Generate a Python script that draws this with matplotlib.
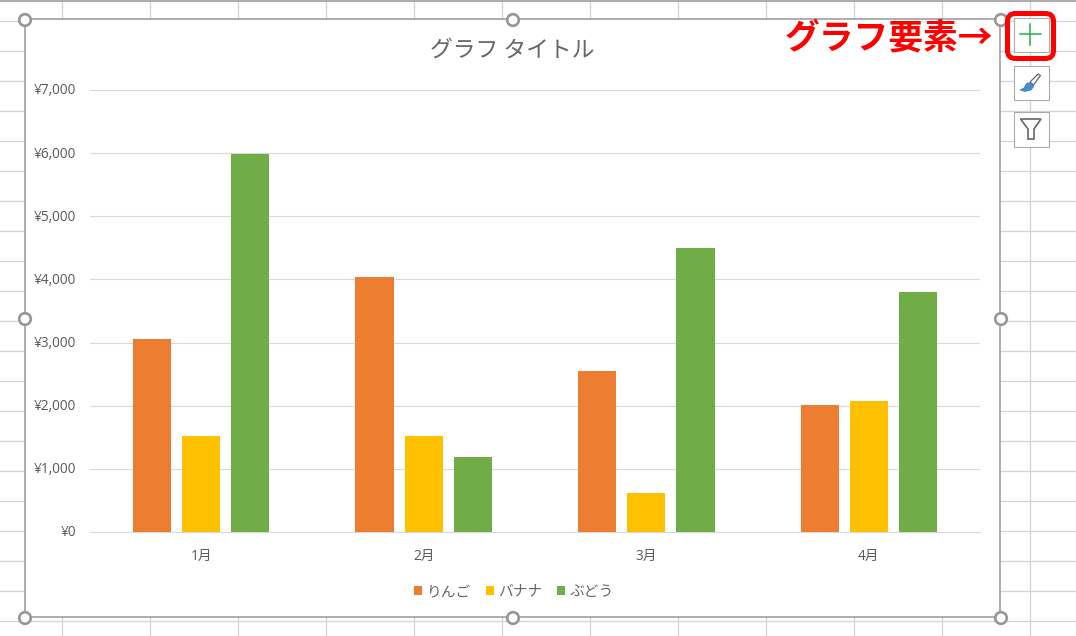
import matplotlib
matplotlib.use("Agg")
import matplotlib.pyplot as plt
import numpy as np
from matplotlib.patches import Rectangle, FancyBboxPatch, Circle, Polygon
from matplotlib.transforms import ScaledTranslation

plt.rcParams['font.family'] = ['Noto Sans CJK JP', 'DejaVu Sans']

months = ['1月', '2月', '3月', '4月']
series_names = ['りんご', 'バナナ', 'ぶどう']
apple = [3050, 4040, 2550, 2010]
banana = [1520, 1520, 620, 2080]
grape = [5990, 1190, 4500, 3800]
series_colors = ['#ED7D31', '#FFC000', '#70AD47']
yticks = [0, 1000, 2000, 3000, 4000, 5000, 6000, 7000]
title_text = 'グラフ タイトル'
callout_text = 'グラフ要素→'
latin_first = ['Open Sans', 'Noto Sans CJK JP']

W, H = 1076, 636
PX = 72 / 100  # points per pixel at dpi 100
fig = plt.figure(figsize=(W / 100, H / 100), dpi=100, facecolor='white')

# Pixel-space layer for the spreadsheet and the Excel chrome
bg = fig.add_axes([0, 0, 1, 1], zorder=0)
bg.set_xlim(0, W); bg.set_ylim(H, 0); bg.axis('off')
for x in np.arange(62, W, 88):
    bg.plot([x, x], [0, H], color='#D4D4D4', lw=1 * PX + 0.2)
for y in np.arange(21, H, 30):
    bg.plot([0, W], [y, y], color='#D4D4D4', lw=1 * PX + 0.2)
bg.plot([0, W], [1, 1], color='#9E9E9E', lw=1.2)
bg.add_patch(Rectangle((24.5, 19), 975.5, 598, fc='white', ec='#979797', lw=1.1, zorder=3))

# Chart plot area
ax = fig.add_axes([89.8 / W, 1 - 532 / H, 890.4 / W, (532 - 90) / H], zorder=2)
ax.patch.set_alpha(0)
pos = np.arange(len(months))
bar_w = 0.1725
step = 0.2205
handles = []
for i, (vals, name, col) in enumerate(zip([apple, banana, grape], series_names, series_colors)):
    b = ax.bar(pos + (i - 1) * step, vals, bar_w, color=col, label=name, zorder=3)
    handles.append(b)
ax.set_xlim(-0.5, len(months) - 0.5)
ax.set_ylim(0, 7000)
ax.set_yticks(yticks)
ax.set_yticklabels([f'¥{v:,}' for v in yticks], fontsize=9.8, color='#595959', family=latin_first)
ax.set_xticks(pos)
ax.set_xticklabels(months, fontsize=9.8, color='#595959', family=latin_first)
ax.tick_params(axis='both', length=0)
ax.tick_params(axis='y', pad=9.5)
ax.tick_params(axis='x', pad=12)
nudge = ScaledTranslation(0, 1 / 100, fig.dpi_scale_trans)
for lab in ax.get_yticklabels():
    lab.set_transform(lab.get_transform() + nudge)
ax.grid(axis='y', color='#D9D9D9', lw=0.8, zorder=0)
ax.set_axisbelow(True)
for s in ['top', 'right', 'left']:
    ax.spines[s].set_visible(False)
ax.spines['bottom'].set_color('#D9D9D9')
ax.spines['bottom'].set_linewidth(0.8)

fig.text(512 / W, 1 - 50 / H, title_text, fontsize=16.4, color='#666666', ha='center', va='center', zorder=5)

leg = fig.legend(handles=handles, labels=series_names, loc='center', bbox_to_anchor=(514 / W, 1 - 592 / H),
                 ncol=3, frameon=False, fontsize=10.6, labelcolor='#666666',
                 handlelength=0.54, handleheight=0.54, handletextpad=0.3, columnspacing=1.0,
                 borderpad=0, borderaxespad=0)
leg.set_zorder(5)

# Overlay for handles, side buttons and call-out
fg = fig.add_axes([0, 0, 1, 1], zorder=6)
fg.set_xlim(0, W); fg.set_ylim(H, 0); fg.axis('off'); fg.patch.set_alpha(0)
for cx, cy in [(25, 20), (513, 20), (1001, 20), (25, 319), (1001, 319), (25, 618), (513, 618), (1001, 618)]:
    fg.add_patch(Circle((cx, cy), 5.8, fc='white', ec='#979797', lw=1.9))
for y0, y1 in [(18, 52), (65.5, 99.5), (112, 146.5)]:
    fg.add_patch(Rectangle((1014, y0), 34.5, y1 - y0, fc='white', ec='#ABABAB', lw=0.8))
fg.plot([1020, 1041], [34.3, 34.3], color='#22B14C', lw=1.1)
fg.plot([1030.3, 1030.3], [24, 45], color='#22B14C', lw=1.1)
fg.add_patch(FancyBboxPatch((1007.5, 13.5), 46, 45, boxstyle='round,pad=0,rounding_size=8',
                            fc='none', ec='#FF0000', lw=3.6))
# brush
fg.add_patch(Polygon([(1030, 82), (1038, 74), (1040.5, 75.5), (1033.5, 85)], fc='white', ec='#666666', lw=0.9))
fg.add_patch(Polygon([(1020, 90), (1024, 88), (1027, 83), (1031, 83), (1034, 86), (1031, 90), (1025, 91.5)],
                     fc='#4A8BCB', ec='#3A78B8', lw=0.5))
# funnel
fg.add_patch(Polygon([(1020.5, 119), (1041, 119), (1034, 129), (1034, 139), (1028, 139), (1028, 129)],
                     fc='white', ec='#666666', lw=1.2))
fg.text(888.5, 37.5, callout_text, fontsize=25, fontweight='bold', color='#FF0000', ha='center', va='center')

fig.savefig('out.png', dpi=100)
